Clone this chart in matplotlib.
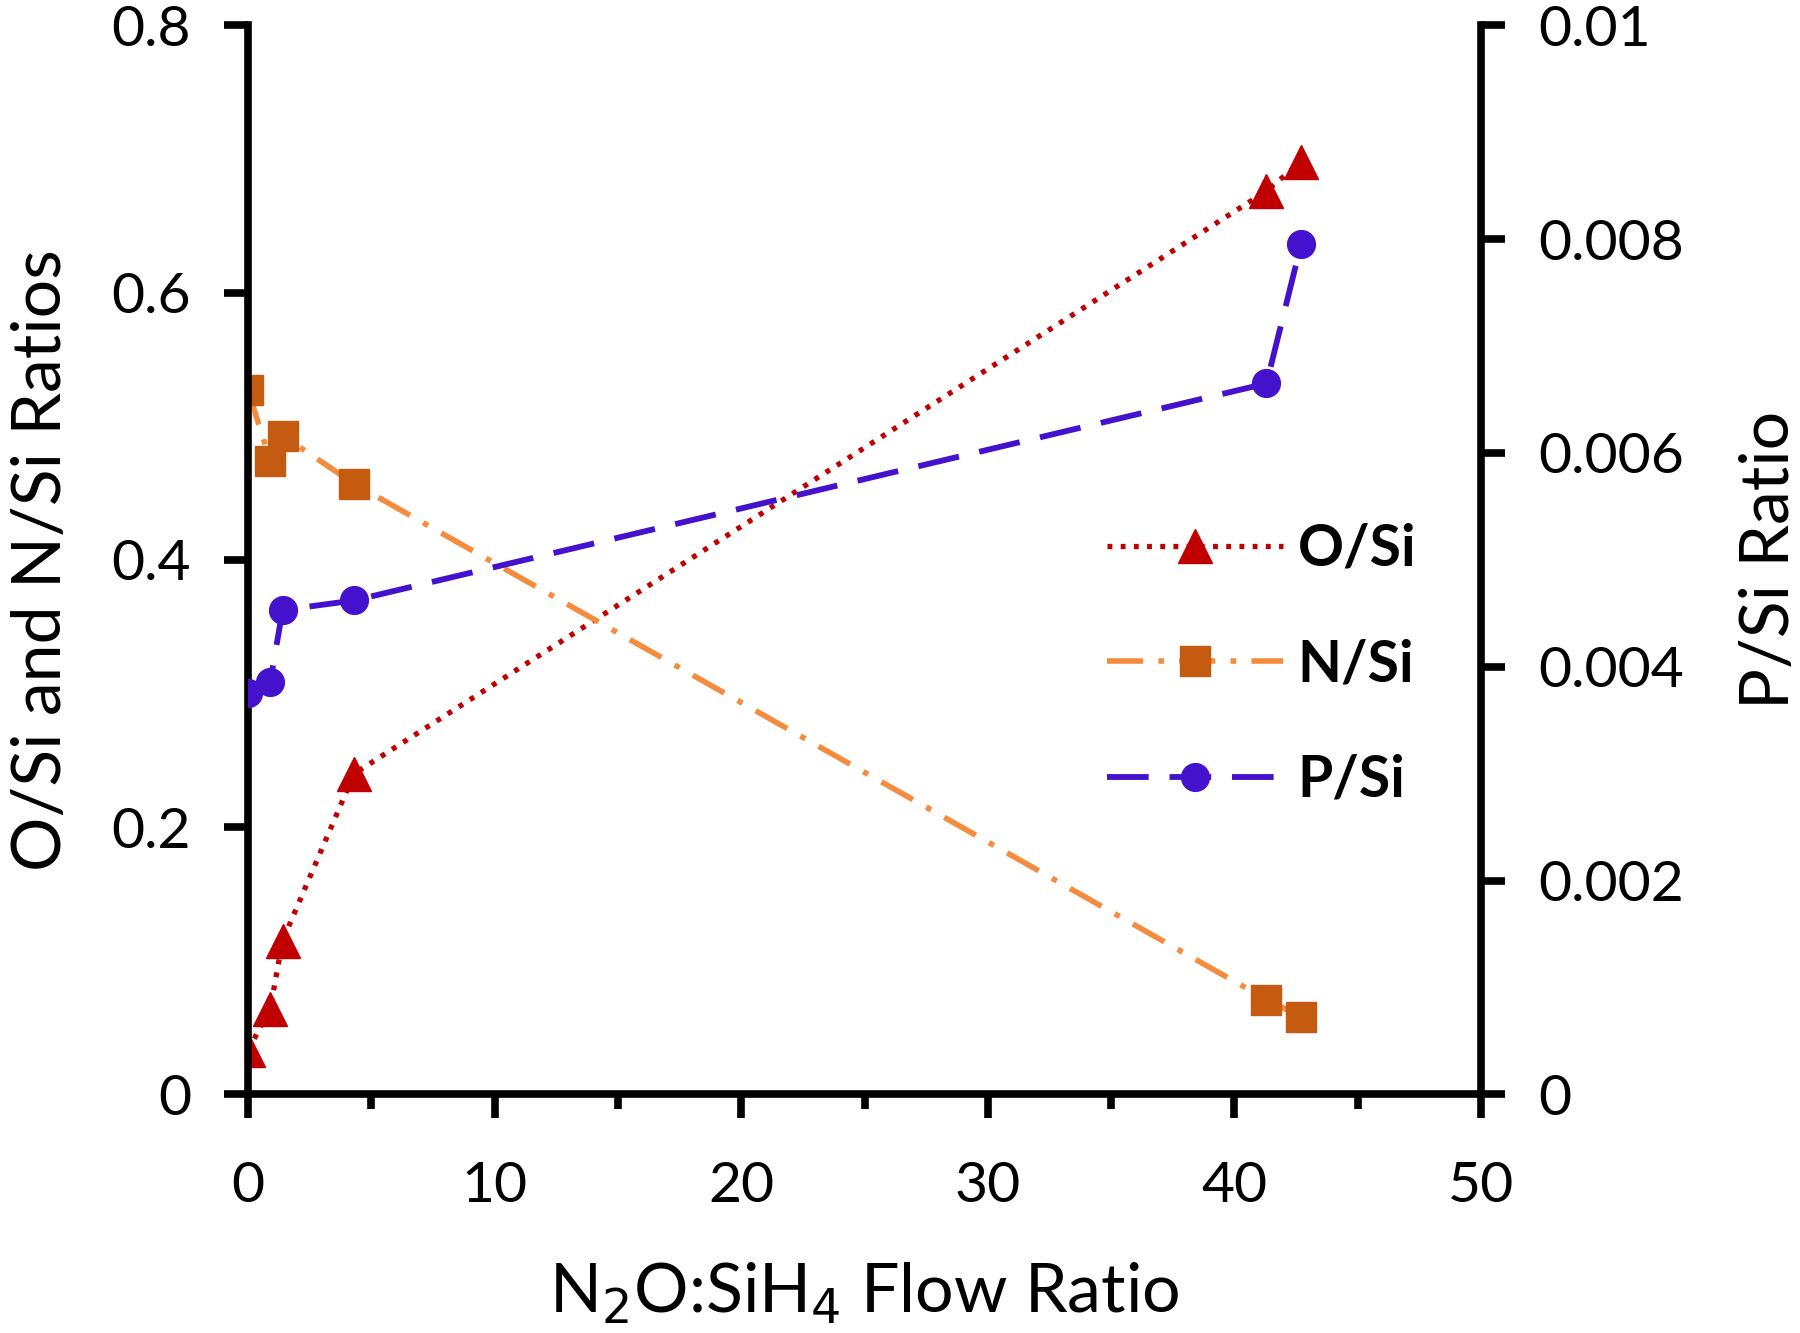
import numpy as np
import matplotlib
matplotlib.use("Agg")
import matplotlib.pyplot as plt

plt.rcParams['font.family'] = ['Lato', 'DejaVu Sans']
plt.rcParams['lines.scale_dashes'] = False

# N2O:SiH4 flow ratio
flow = [0.0, 0.9, 1.4, 4.3, 41.3, 42.7]
# element ratios
o_si = [0.033, 0.064, 0.115, 0.240, 0.676, 0.698]
n_si = [0.527, 0.474, 0.493, 0.457, 0.071, 0.058]
p_si = [0.00375, 0.00386, 0.00453, 0.00462, 0.00665, 0.00795]

fig = plt.figure(figsize=(18, 13.33), dpi=100)
ax = fig.add_axes([0.1378, 0.179, 0.685, 0.802])
ax2 = ax.twinx()

lo, = ax.plot(flow, o_si, color='#C00000', lw=3.8, dashes=(3.5, 6.0),
              marker='^', ms=24, mfc='#C00000', mec='#C00000', label='O/Si')
ln, = ax.plot(flow, n_si, color='#F58B3C', lw=4.0, dashes=(26, 11, 4, 11),
              marker='s', ms=21, mfc='#C55A11', mec='#C55A11', label='N/Si')
lp, = ax2.plot(flow, p_si, color='#4412CC', lw=4.2, dashes=(30, 15),
               marker='o', ms=20, mfc='#4412CC', mec='#4412CC', label='P/Si')

ax.set_xlim(0, 50)
ax.set_ylim(0, 0.8)
ax2.set_ylim(0, 0.01)
ax.set_xticks([0, 10, 20, 30, 40, 50])
ax.set_xticks([5, 15, 25, 35, 45], minor=True)
ax.set_yticks([0, 0.2, 0.4, 0.6, 0.8])
ax.set_yticklabels(['0', '0.2', '0.4', '0.6', '0.8'])
ax2.set_yticks([0, 0.002, 0.004, 0.006, 0.008, 0.01])
ax2.set_yticklabels(['0', '0.002', '0.004', '0.006', '0.008', '0.01'])

for a in (ax, ax2):
    a.spines['top'].set_visible(False)
    for s in a.spines.values():
        s.set_linewidth(5.5)
ax.spines['right'].set_visible(False)
ax2.spines['left'].set_visible(False)
ax2.spines['bottom'].set_visible(False)

ax.tick_params(axis='both', which='major', direction='out', length=17, width=5.5,
               labelsize=41, pad=24)
ax.tick_params(axis='x', which='major', pad=31)
ax.tick_params(axis='x', which='minor', direction='out', length=11, width=5.5)
ax2.tick_params(axis='y', direction='out', length=17, width=5.5, labelsize=41, pad=24)

ax.set_xlabel('N$_2$O:SiH$_4$ Flow Ratio', fontsize=49, labelpad=35)
ax.set_ylabel('O/Si and N/Si Ratios', fontsize=49, labelpad=28)
ax2.set_ylabel('P/Si Ratio', fontsize=49, labelpad=40)

leg = ax2.legend(handles=[lo, ln, lp], loc='center left', bbox_to_anchor=(0.655, 0.402),
                 frameon=False, numpoints=1, handlelength=3.1,
                 handletextpad=0.25, labelspacing=1.1, prop={'weight': 'bold', 'size': 41})

plt.savefig('out.png', dpi=100)
